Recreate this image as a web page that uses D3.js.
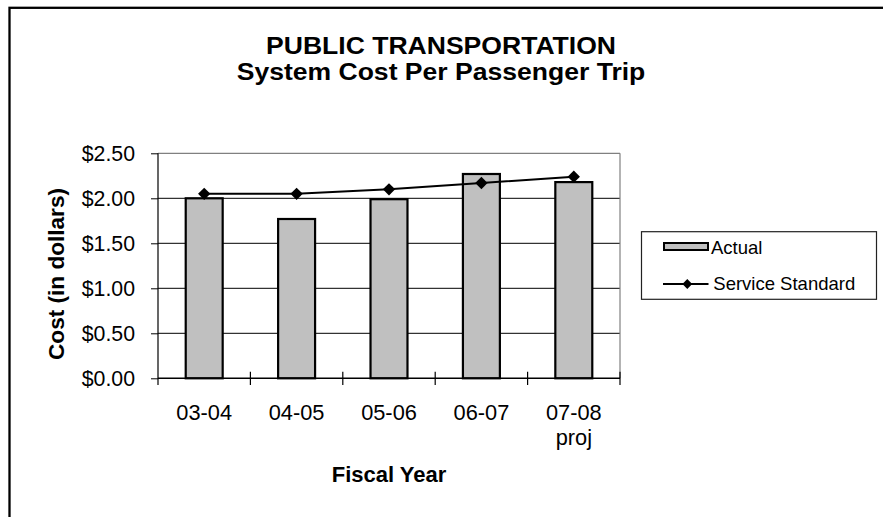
<!DOCTYPE html>
<html>
<head>
<meta charset="utf-8">
<script src="https://cdn.jsdelivr.net/npm/d3@7"></script>
<style>
  html, body { margin: 0; padding: 0; background: #fff; }
  svg { display: block; }
  text { font-family: "Liberation Sans", Arial, sans-serif; fill: #000; }
</style>
</head>
<body>
<svg id="chart" width="883" height="517"></svg>
<script>
const categories = ["03-04", "04-05", "05-06", "06-07", "07-08\nproj"];
const actual = [2.00, 1.77, 1.99, 2.27, 2.18];
const serviceStandard = [2.05, 2.05, 2.10, 2.17, 2.24];
const yTickValues = [0, 0.5, 1.0, 1.5, 2.0, 2.5];
const titleLines = ["PUBLIC TRANSPORTATION", "System Cost Per Passenger Trip"];
const xTitle = "Fiscal Year";
const yTitle = "Cost (in dollars)";
const legendLabels = ["Actual", "Service Standard"];

const svg = d3.select("#chart");
svg.append("rect").attr("width", 883).attr("height", 517).attr("fill", "#fff");

// outer frame (extends beyond the picture on right/bottom)
svg.append("rect")
  .attr("x", 9.5).attr("y", 7.8).attr("width", 900).attr("height", 540)
  .attr("fill", "none").attr("stroke", "#000").attr("stroke-width", 2.3);

const plot = { left: 158, right: 620, top: 153.3, bottom: 378.3 };

const x = d3.scaleBand().domain(categories)
  .range([plot.left, plot.right]).paddingInner(0.6).paddingOuter(0.3);
const y = d3.scaleLinear().domain([0, 2.5]).range([plot.bottom, plot.top]);

// gridlines
svg.append("g").selectAll("line").data(yTickValues.filter(v => v > 0 && v < 2.5)).join("line")
  .attr("x1", plot.left).attr("x2", plot.right)
  .attr("y1", d => y(d)).attr("y2", d => y(d))
  .attr("stroke", "#000").attr("stroke-width", 1);

// plot border (top & right grey)
svg.append("line").attr("x1", plot.left).attr("x2", plot.right)
  .attr("y1", y(2.5)).attr("y2", y(2.5)).attr("stroke", "#808080").attr("stroke-width", 1.2);
svg.append("line").attr("x1", plot.right).attr("x2", plot.right)
  .attr("y1", y(2.5)).attr("y2", y(0)).attr("stroke", "#808080").attr("stroke-width", 1.2);

// bars
svg.append("g").selectAll("rect").data(actual).join("rect")
  .attr("x", (d, i) => x(categories[i]))
  .attr("width", x.bandwidth())
  .attr("y", d => y(d))
  .attr("height", d => y(0) - y(d))
  .attr("fill", "#c0c0c0").attr("stroke", "#000").attr("stroke-width", 2.2);

// y axis
const yAxis = d3.axisLeft(y).tickValues(yTickValues)
  .tickFormat(d => "$" + d.toFixed(2)).tickSize(7).tickPadding(16).tickSizeOuter(0);
const gy = svg.append("g").attr("transform", `translate(${plot.left},0)`).call(yAxis);
gy.select(".domain").remove();
gy.selectAll(".tick line").attr("stroke", "#000");
gy.selectAll("text").attr("font-size", 21.3).attr("dy", "0.36em").attr("fill", "#000")
  .style("font-family", '"Liberation Sans", Arial, sans-serif');
svg.append("line").attr("x1", plot.left).attr("x2", plot.left)
  .attr("y1", y(2.5)).attr("y2", plot.bottom + 6.7).attr("stroke", "#000").attr("stroke-width", 1.2);

// x axis
const xAxis = d3.axisBottom(x).tickSize(0).tickPadding(26.5);
const gx = svg.append("g").attr("transform", `translate(0,${plot.bottom})`).call(xAxis);
gx.select(".domain").remove();
gx.selectAll(".tick text").each(function(d) {
  const t = d3.select(this);
  const lines = d.split("\n");
  t.text(null).attr("font-size", 21.8).attr("fill", "#000")
    .style("font-family", '"Liberation Sans", Arial, sans-serif');
  lines.forEach((ln, k) => {
    t.append("tspan").attr("x", 0).attr("dy", k === 0 ? "0.71em" : "1.15em").text(ln);
  });
});
svg.append("line").attr("x1", plot.left).attr("x2", plot.right)
  .attr("y1", plot.bottom).attr("y2", plot.bottom).attr("stroke", "#000").attr("stroke-width", 1.5);
svg.append("g").selectAll("line").data(d3.range(1, categories.length + 1)).join("line")
  .attr("x1", i => plot.left + i * x.step()).attr("x2", i => plot.left + i * x.step())
  .attr("y1", plot.bottom - 6.6).attr("y2", plot.bottom + 6.7)
  .attr("stroke", "#000").attr("stroke-width", 1.2);

// service standard line
const cx = i => x(categories[i]) + x.bandwidth() / 2;
const line = d3.line().x((d, i) => cx(i)).y(d => y(d));
svg.append("path").datum(serviceStandard).attr("d", line)
  .attr("fill", "none").attr("stroke", "#000").attr("stroke-width", 2);
const diamond = d3.symbol().type(d3.symbolSquare).size(76);
svg.append("g").selectAll("path").data(serviceStandard).join("path")
  .attr("d", diamond)
  .attr("transform", (d, i) => `translate(${cx(i)},${y(d)}) rotate(45)`)
  .attr("fill", "#000");

// titles
titleLines.forEach((t, k) => {
  svg.append("text")
    .attr("transform", `translate(441,${k === 0 ? 54.3 : 80}) scale(1.13,1)`)
    .attr("text-anchor", "middle").attr("font-size", 23.5).attr("font-weight", "bold")
    .text(t);
});
svg.append("text").attr("x", 389).attr("y", 482.3).attr("text-anchor", "middle")
  .attr("font-size", 22).attr("font-weight", "bold").text(xTitle);
svg.append("text").attr("transform", "translate(64,274) rotate(-90)")
  .attr("text-anchor", "middle").attr("font-size", 22.6).attr("font-weight", "bold").text(yTitle);

// legend
const lg = svg.append("g");
lg.append("rect").attr("x", 641.5).attr("y", 231.7).attr("width", 235).attr("height", 67.6)
  .attr("fill", "#fff").attr("stroke", "#222").attr("stroke-width", 1.2);
lg.append("rect").attr("x", 664).attr("y", 243).attr("width", 44).attr("height", 7)
  .attr("fill", "#c0c0c0").attr("stroke", "#000").attr("stroke-width", 2);
lg.append("text").attr("x", 711).attr("y", 254).attr("font-size", 18.5).text(legendLabels[0]);
lg.append("line").attr("x1", 663).attr("x2", 708.5).attr("y1", 284).attr("y2", 284)
  .attr("stroke", "#000").attr("stroke-width", 2);
lg.append("path").attr("d", d3.symbol().type(d3.symbolSquare).size(48))
  .attr("transform", "translate(687.3,284) rotate(45)").attr("fill", "#000");
lg.append("text").attr("x", 713.3).attr("y", 289.8).attr("font-size", 18.5).text(legendLabels[1]);
</script>
</body>
</html>
